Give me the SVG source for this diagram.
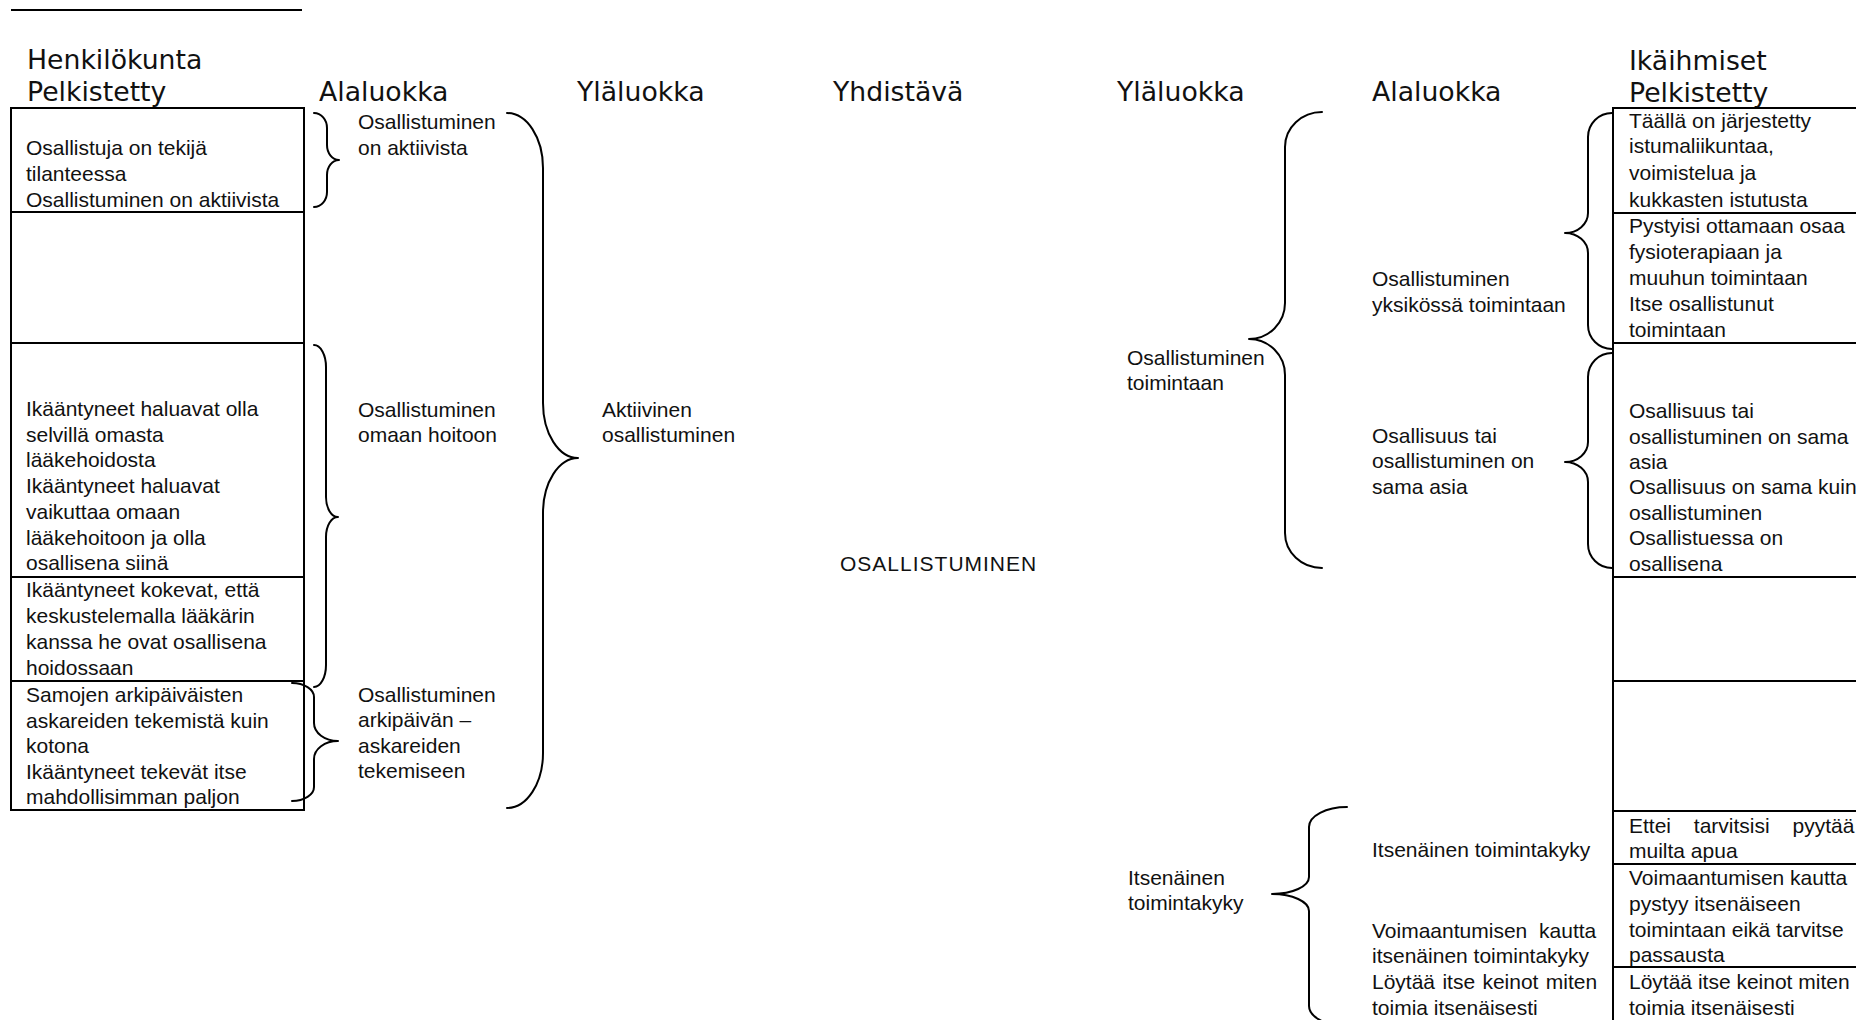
<svg xmlns="http://www.w3.org/2000/svg" width="1856" height="1020" viewBox="0 0 1856 1020">
  <style>
    .bg { fill: #ffffff; }
    .frame { fill: none; stroke: #000; stroke-width: 2; }
    .rule { stroke: #000; stroke-width: 2; }
    .brace { fill: none; stroke: #000; stroke-width: 2; stroke-linecap: round; stroke-linejoin: round; }
    .h { font-family: "DejaVu Sans", Verdana, sans-serif; font-size: 26.7px; fill: #111; }
    .t { font-family: "Liberation Sans", Arial, sans-serif; font-size: 21px; fill: #111; }
    .caps { letter-spacing: 1px; }
  </style>

  <rect class="bg" x="0" y="0" width="1856" height="1020"/>

  <!-- rule above the staff column -->
  <line class="rule" x1="11" y1="10" x2="302" y2="10"/>

  <!-- column headings -->
  <g id="headings" class="h">
    <text x="27" y="69">Henkilökunta</text>
    <text x="27" y="101">Pelkistetty</text>
    <text x="319" y="101">Alaluokka</text>
    <text x="577" y="101">Yläluokka</text>
    <text x="833" y="101">Yhdistävä</text>
    <text x="1117" y="101">Yläluokka</text>
    <text x="1372" y="101">Alaluokka</text>
    <text x="1629" y="70">Ikäihmiset</text>
    <text x="1629" y="102">Pelkistetty</text>
  </g>

  <!-- staff: reduced expressions -->
  <g id="staff-table">
    <rect class="frame" x="11" y="108" width="293" height="702"/>
    <line class="rule" x1="11" y1="212" x2="304" y2="212"/>
    <line class="rule" x1="11" y1="343" x2="304" y2="343"/>
    <line class="rule" x1="11" y1="577" x2="304" y2="577"/>
    <line class="rule" x1="11" y1="681" x2="304" y2="681"/>
  </g>
  <g id="staff-cell-1" class="t">
    <text x="26" y="155">Osallistuja on tekijä</text>
    <text x="26" y="181">tilanteessa</text>
    <text x="26" y="207">Osallistuminen on aktiivista</text>
  </g>
  <g id="staff-cell-3" class="t">
    <text x="26" y="416">Ikääntyneet haluavat olla</text>
    <text x="26" y="442">selvillä omasta</text>
    <text x="26" y="467">lääkehoidosta</text>
    <text x="26" y="493">Ikääntyneet haluavat</text>
    <text x="26" y="519">vaikuttaa omaan</text>
    <text x="26" y="545">lääkehoitoon ja olla</text>
    <text x="26" y="570">osallisena siinä</text>
  </g>
  <g id="staff-cell-4" class="t">
    <text x="26" y="597">Ikääntyneet kokevat, että</text>
    <text x="26" y="623">keskustelemalla lääkärin</text>
    <text x="26" y="649">kanssa he ovat osallisena</text>
    <text x="26" y="675">hoidossaan</text>
  </g>
  <g id="staff-cell-5" class="t">
    <text x="26" y="702">Samojen arkipäiväisten</text>
    <text x="26" y="728">askareiden tekemistä kuin</text>
    <text x="26" y="753">kotona</text>
    <text x="26" y="779">Ikääntyneet tekevät itse</text>
    <text x="26" y="804">mahdollisimman paljon</text>
  </g>

  <!-- staff: subcategories -->
  <g id="sub-aktiivista" class="t">
    <text x="358" y="129">Osallistuminen</text>
    <text x="358" y="155">on aktiivista</text>
  </g>
  <g id="sub-hoito" class="t">
    <text x="358" y="417">Osallistuminen</text>
    <text x="358" y="442">omaan hoitoon</text>
  </g>
  <g id="sub-arki" class="t">
    <text x="358" y="702">Osallistuminen</text>
    <text x="358" y="727">arkipäivän –</text>
    <text x="358" y="753">askareiden</text>
    <text x="358" y="778">tekemiseen</text>
  </g>

  <!-- staff: main category -->
  <g id="main-aktiivinen" class="t">
    <text x="602" y="417">Aktiivinen</text>
    <text x="602" y="442">osallistuminen</text>
  </g>

  <!-- combining category -->
  <g id="combining" class="t caps">
    <text x="840" y="571">OSALLISTUMINEN</text>
  </g>

  <!-- elderly: main categories -->
  <g id="main-toimintaan" class="t">
    <text x="1127" y="365">Osallistuminen</text>
    <text x="1127" y="390">toimintaan</text>
  </g>
  <g id="main-itsenainen" class="t">
    <text x="1128" y="885">Itsenäinen</text>
    <text x="1128" y="910">toimintakyky</text>
  </g>

  <!-- elderly: subcategories -->
  <g id="sub-yksikko" class="t">
    <text x="1372" y="286">Osallistuminen</text>
    <text x="1372" y="312">yksikössä toimintaan</text>
  </g>
  <g id="sub-sama" class="t">
    <text x="1372" y="443">Osallisuus tai</text>
    <text x="1372" y="468">osallistuminen on</text>
    <text x="1372" y="494">sama asia</text>
  </g>
  <g id="sub-toimintakyky" class="t">
    <text x="1372" y="857">Itsenäinen toimintakyky</text>
  </g>
  <g id="sub-voimaantuminen" class="t">
    <text x="1372" y="938" word-spacing="6">Voimaantumisen kautta</text>
    <text x="1372" y="963">itsenäinen toimintakyky</text>
    <text x="1372" y="989" word-spacing="1.5">Löytää itse keinot miten</text>
    <text x="1372" y="1015">toimia itsenäisesti</text>
  </g>

  <!-- elderly: reduced expressions -->
  <g id="elderly-table">
    <rect class="frame" x="1613" y="108" width="270" height="940"/>
    <line class="rule" x1="1613" y1="213" x2="1860" y2="213"/>
    <line class="rule" x1="1613" y1="343" x2="1860" y2="343"/>
    <line class="rule" x1="1613" y1="577" x2="1860" y2="577"/>
    <line class="rule" x1="1613" y1="681" x2="1860" y2="681"/>
    <line class="rule" x1="1613" y1="811" x2="1860" y2="811"/>
    <line class="rule" x1="1613" y1="864" x2="1860" y2="864"/>
    <line class="rule" x1="1613" y1="967" x2="1860" y2="967"/>
  </g>
  <g id="elderly-cell-1" class="t">
    <text x="1629" y="128">Täällä on järjestetty</text>
    <text x="1629" y="153">istumaliikuntaa,</text>
    <text x="1629" y="180">voimistelua ja</text>
    <text x="1629" y="207">kukkasten istutusta</text>
  </g>
  <g id="elderly-cell-2" class="t">
    <text x="1629" y="233">Pystyisi ottamaan osaa</text>
    <text x="1629" y="259">fysioterapiaan ja</text>
    <text x="1629" y="285">muuhun toimintaan</text>
    <text x="1629" y="311">Itse osallistunut</text>
    <text x="1629" y="337">toimintaan</text>
  </g>
  <g id="elderly-cell-3" class="t">
    <text x="1629" y="418">Osallisuus tai</text>
    <text x="1629" y="444">osallistuminen on sama</text>
    <text x="1629" y="469">asia</text>
    <text x="1629" y="494">Osallisuus on sama kuin</text>
    <text x="1629" y="520">osallistuminen</text>
    <text x="1629" y="545">Osallistuessa on</text>
    <text x="1629" y="571">osallisena</text>
  </g>
  <g id="elderly-cell-6" class="t">
    <text x="1629" y="833" word-spacing="17">Ettei tarvitsisi pyytää</text>
    <text x="1629" y="858">muilta apua</text>
  </g>
  <g id="elderly-cell-7" class="t">
    <text x="1629" y="885">Voimaantumisen kautta</text>
    <text x="1629" y="911">pystyy itsenäiseen</text>
    <text x="1629" y="937">toimintaan eikä tarvitse</text>
    <text x="1629" y="962">passausta</text>
  </g>
  <g id="elderly-cell-8" class="t">
    <text x="1629" y="989">Löytää itse keinot miten</text>
    <text x="1629" y="1015">toimia itsenäisesti</text>
  </g>

  <!-- grouping braces -->
  <g id="connectors" class="brace">
    <!-- staff side: closing braces -->
    <path d="M314,113 A13,15 0 0 1 327,128 L327,145 A12,15 0 0 0 339,160 A12,15 0 0 0 327,175 L327,192 A13,15 0 0 1 314,207"/>
    <path d="M314,345 A12,22 0 0 1 326,367 L326,497 A12,20 0 0 0 338,517 A12,20 0 0 0 326,537 L326,665 A12,22 0 0 1 314,687"/>
    <path d="M292,683 A22,14 0 0 1 314,697 L314,723 A24,18 0 0 0 338,741 A24,18 0 0 0 314,759 L314,787 A22,14 0 0 1 292,801"/>
    <path d="M507,113 A36,55 0 0 1 543,168 L543,403 A35,55 0 0 0 578,458 A35,55 0 0 0 543,513 L543,753 A36,55 0 0 1 507,808"/>
    <!-- elderly side: opening braces -->
    <path d="M1322,112 A37,35 0 0 0 1285,147 L1285,303 A36,36 0 0 1 1249,339 A36,36 0 0 1 1285,375 L1285,533 A37,35 0 0 0 1322,568"/>
    <path d="M1612,113 A24,24 0 0 0 1588,137 L1588,213 A23,20 0 0 1 1565,233 A23,20 0 0 1 1588,253 L1588,325 A24,24 0 0 0 1612,349"/>
    <path d="M1612,353 A24,24 0 0 0 1588,377 L1588,442 A23,20 0 0 1 1565,462 A23,20 0 0 1 1588,482 L1588,544 A24,24 0 0 0 1612,568"/>
    <path d="M1347,807 A38,20 0 0 0 1309,827 L1309,877 A37,17 0 0 1 1272,894 A37,17 0 0 1 1309,911 L1309,1006 A38,20 0 0 0 1347,1026"/>
  </g>
</svg>
